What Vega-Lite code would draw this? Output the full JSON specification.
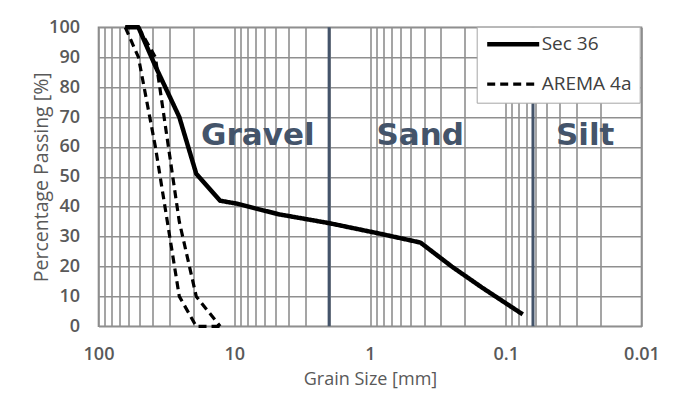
{
  "$schema": "https://vega.github.io/schema/vega-lite/v6.json",
  "width": 543,
  "height": 299,
  "autosize": {"type": "none"},
  "padding": {"left": 98.5, "top": 27.3, "right": 33.5, "bottom": 75.7},
  "background": "white",
  "config": {
    "view": {"stroke": "#858585", "strokeWidth": 1.6},
    "font": "Open Sans",
    "axis": {
      "ticks": false,
      "domain": false,
      "grid": true,
      "gridColor": "#8f8f8f",
      "gridWidth": 1.6,
      "labelFont": "Open Sans",
      "labelFontSize": 18,
      "labelFontWeight": 600,
      "labelColor": "#595959",
      "labelOverlap": false,
      "titleFont": "Open Sans",
      "titleFontSize": 18,
      "titleFontWeight": "normal",
      "titleColor": "#595959"
    }
  },
  "datasets": {
    "curves": [
      {"series": "Sec 36", "line": "Sec 36", "mm": 63.5, "pct": 100},
      {"series": "Sec 36", "line": "Sec 36", "mm": 50.8, "pct": 100},
      {"series": "Sec 36", "line": "Sec 36", "mm": 38.1, "pct": 87},
      {"series": "Sec 36", "line": "Sec 36", "mm": 25.4, "pct": 70},
      {"series": "Sec 36", "line": "Sec 36", "mm": 19.05, "pct": 51},
      {"series": "Sec 36", "line": "Sec 36", "mm": 12.7, "pct": 42},
      {"series": "Sec 36", "line": "Sec 36", "mm": 9.5, "pct": 41},
      {"series": "Sec 36", "line": "Sec 36", "mm": 4.75, "pct": 37.5},
      {"series": "Sec 36", "line": "Sec 36", "mm": 2.0, "pct": 34.5},
      {"series": "Sec 36", "line": "Sec 36", "mm": 0.85, "pct": 31},
      {"series": "Sec 36", "line": "Sec 36", "mm": 0.425, "pct": 28},
      {"series": "Sec 36", "line": "Sec 36", "mm": 0.25, "pct": 20},
      {"series": "Sec 36", "line": "Sec 36", "mm": 0.15, "pct": 13},
      {"series": "Sec 36", "line": "Sec 36", "mm": 0.075, "pct": 4},
      {"series": "AREMA 4a", "line": "AREMA lower", "mm": 63.5, "pct": 100},
      {"series": "AREMA 4a", "line": "AREMA lower", "mm": 50.8, "pct": 90},
      {"series": "AREMA 4a", "line": "AREMA lower", "mm": 38.1, "pct": 60},
      {"series": "AREMA 4a", "line": "AREMA lower", "mm": 25.4, "pct": 10},
      {"series": "AREMA 4a", "line": "AREMA lower", "mm": 19.05, "pct": 0},
      {"series": "AREMA 4a", "line": "AREMA lower", "mm": 12.7, "pct": 0},
      {"series": "AREMA 4a", "line": "AREMA upper", "mm": 63.5, "pct": 100},
      {"series": "AREMA 4a", "line": "AREMA upper", "mm": 50.8, "pct": 100},
      {"series": "AREMA 4a", "line": "AREMA upper", "mm": 38.1, "pct": 90},
      {"series": "AREMA 4a", "line": "AREMA upper", "mm": 25.4, "pct": 35},
      {"series": "AREMA 4a", "line": "AREMA upper", "mm": 19.05, "pct": 10},
      {"series": "AREMA 4a", "line": "AREMA upper", "mm": 12.7, "pct": 0}
    ],
    "bounds": [
      {"name": "Gravel/Sand", "mm": 2},
      {"name": "Sand/Silt", "mm": 0.063}
    ],
    "labels": [
      {"text": "Gravel", "mm": 6.7, "pct": 60.5},
      {"text": "Sand", "mm": 0.427, "pct": 60.5},
      {"text": "Silt", "mm": 0.026, "pct": 60.5}
    ]
  },
  "encoding": {
    "x": {
      "field": "mm",
      "type": "quantitative",
      "scale": {"type": "log", "domain": [0.01, 100], "reverse": true, "nice": false},
      "axis": {
        "title": "Grain Size [mm]",
        "values": [0.01, 0.02, 0.03, 0.04, 0.05, 0.06, 0.07, 0.08, 0.09, 0.1, 0.2, 0.3, 0.4, 0.5, 0.6, 0.7, 0.8, 0.9, 1, 2, 3, 4, 5, 6, 7, 8, 9, 10, 20, 30, 40, 50, 60, 70, 80, 90, 100],
        "labelExpr": "indexof([100, 10, 1, 0.1, 0.01], datum.value) >= 0 ? format(datum.value, '~g') : ''",
        "labelFlush": false,
        "labelBound": false,
        "labelOverlap": false,
        "labelPadding": 19,
        "titlePadding": 7
      }
    }
  },
  "layer": [
    {
      "data": {"name": "bounds"},
      "mark": {"type": "rule", "color": "#44546A", "strokeWidth": 3},
      "encoding": {}
    },
    {
      "data": {"name": "curves"},
      "mark": {"type": "line", "interpolate": "linear", "color": "black", "strokeJoin": "round"},
      "encoding": {
        "y": {
          "field": "pct",
          "type": "quantitative",
          "scale": {"domain": [0, 100], "nice": false},
          "axis": {
            "title": "Percentage Passing [%]",
            "titleFontSize": 19.5,
            "values": [0, 10, 20, 30, 40, 50, 60, 70, 80, 90, 100],
            "labelOverlap": false,
            "labelFlush": false,
            "labelBound": false,
            "labelPadding": 19,
            "titlePadding": -3
          }
        },
        "detail": {"field": "line"},
        "order": {"field": "mm", "type": "quantitative", "sort": "descending"},
        "strokeDash": {
          "field": "series",
          "type": "nominal",
          "scale": {"domain": ["Sec 36", "AREMA 4a"], "range": [[1, 0], [8, 5]]},
          "legend": {
            "title": null,
            "orient": "none",
            "legendX": 378.2,
            "legendY": -0.6,
            "fillColor": "white",
            "strokeColor": "#a6a6a6",
            "padding": 8,
            "symbolType": "stroke",
            "symbolSize": 2704,
            "symbolStrokeWidth": 4,
            "symbolStrokeColor": "black",
            "clipHeight": 19,
            "rowPadding": 20,
            "labelOffset": 0,
            "labelFont": "Open Sans",
            "labelFontSize": 19,
            "labelColor": "#404040",
            "labelLimit": 200
          }
        },
        "strokeWidth": {
          "field": "series",
          "type": "nominal",
          "scale": {"domain": ["Sec 36", "AREMA 4a"], "range": [4.5, 3.2]},
          "legend": null
        }
      }
    },
    {
      "data": {"name": "labels"},
      "mark": {"type": "text", "font": "DejaVu Sans", "fontWeight": "bold", "fontSize": 31, "color": "#44546A", "align": "center", "baseline": "alphabetic"},
      "encoding": {
        "y": {
          "field": "pct",
          "type": "quantitative",
          "scale": {"domain": [0, 100], "nice": false},
          "axis": {
            "title": "Percentage Passing [%]",
            "titleFontSize": 19.5,
            "values": [0, 10, 20, 30, 40, 50, 60, 70, 80, 90, 100],
            "labelOverlap": false,
            "labelFlush": false,
            "labelBound": false,
            "labelPadding": 19,
            "titlePadding": -3
          }
        },
        "text": {"field": "text"}
      }
    }
  ]
}
